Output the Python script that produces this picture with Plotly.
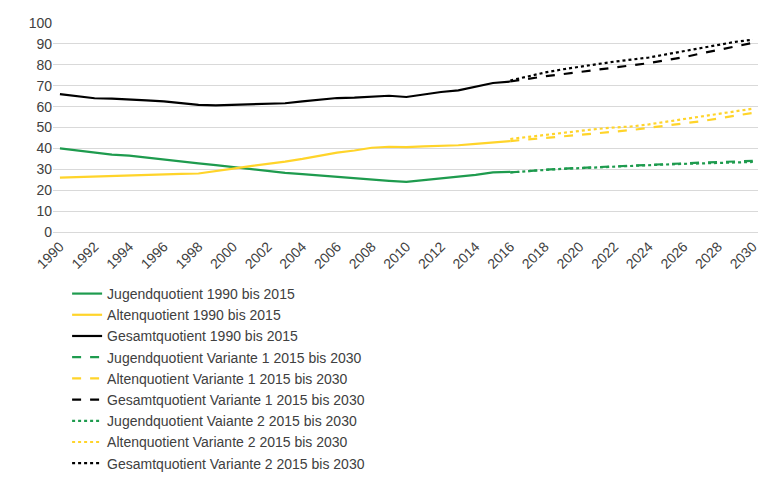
import plotly.graph_objects as go

years_hist = list(range(1990, 2017))
years_var = list(range(2016, 2031))
jugend = [40,39,38,37,36.5,35.5,34.8,33.8,32.8,32,31,30,29,28.3,27.7,27,26.3,25.7,25,24.5,24,24.8,25.5,26.3,27.3,28.5,28.8]
alten = [26,26.3,26.3,26.6,27,27.3,27.7,27.8,28,29,30.3,31.5,32.5,33.7,35,36.5,38,39,40.3,40.8,40.6,41,41.3,41.5,42.2,43,43.5]
gesamt = [66,65,64,63.8,63.5,63,62.5,61.5,60.8,60.6,60.8,61,61.2,61.6,62.5,63.3,64.1,64.3,64.6,65.2,64.6,65.8,67,67.8,69.5,71.3,72]
v1_jugend = [28.5,29.3,29.8,30.3,30.7,31.1,31.5,31.8,32.2,32.5,32.9,33.2,33.5,33.7,34]
v1_alten = [43.5,44.2,45,45.7,46.5,47.2,48,48.8,49.8,50.8,51.8,53,54.3,55.5,57]
v1_gesamt = [72,73.3,74.5,75.5,76.5,77.5,78.5,79.5,80.8,82.2,83.6,85.4,87.2,89,90.5]
v2_jugend = [28.5,29.2,29.7,30.2,30.6,31,31.4,31.7,32,32.3,32.6,32.9,33.1,33.3,33.5]
v2_alten = [44.5,45.5,46.5,47.5,48.5,49.3,50,50.5,51.5,52.8,54,55.3,56.5,57.8,59]
v2_gesamt = [72.5,74.5,76.3,77.8,79.2,80.3,81.5,82.5,83.5,85,86.5,88,89.5,91,92]

G, Y, K = "#1E9B4E", "#FFD42A", "#000000"
series = [
    ("Jugendquotient 1990 bis 2015", years_hist, jugend, G, "solid"),
    ("Altenquotient 1990 bis 2015", years_hist, alten, Y, "solid"),
    ("Gesamtquotient 1990 bis 2015", years_hist, gesamt, K, "solid"),
    ("Jugendquotient Variante 1 2015 bis 2030", years_var, v1_jugend, G, "dash"),
    ("Altenquotient Variante 1 2015 bis 2030", years_var, v1_alten, Y, "dash"),
    ("Gesamtquotient Variante 1 2015 bis 2030", years_var, v1_gesamt, K, "dash"),
    ("Jugendquotient Vaiante 2 2015 bis 2030", years_var, v2_jugend, G, "dot"),
    ("Altenquotient Variante 2 2015 bis 2030", years_var, v2_alten, Y, "dot"),
    ("Gesamtquotient Variante 2 2015 bis 2030", years_var, v2_gesamt, K, "dot"),
]
fig = go.Figure()
for name, x, y, c, d in series:
    fig.add_trace(go.Scatter(x=x, y=y, name=name, mode="lines",
                             line=dict(color=c, dash=d, width=2.2)))
fig.update_layout(
    width=780, height=483, margin=dict(l=45, r=30, t=15, b=175),
    plot_bgcolor="white", paper_bgcolor="white",
    font=dict(family="Liberation Sans", size=14, color="#404040"),
    xaxis=dict(range=[1989.6, 2030.3], tickvals=list(range(1990, 2031, 2)), tickangle=-45,
               showgrid=False, showline=True, linecolor="#d9d9d9", ticks="", automargin=False),
    yaxis=dict(range=[0, 100], dtick=10, gridcolor="#d9d9d9", zeroline=False, ticks="", automargin=False),
    legend=dict(orientation="h", x=0.02, xanchor="left", y=-0.22, yanchor="top",
                entrywidth=330, traceorder="normal", font=dict(size=14, color="#404040"),
                tracegroupgap=0),
)
fig.write_html("out.html")
